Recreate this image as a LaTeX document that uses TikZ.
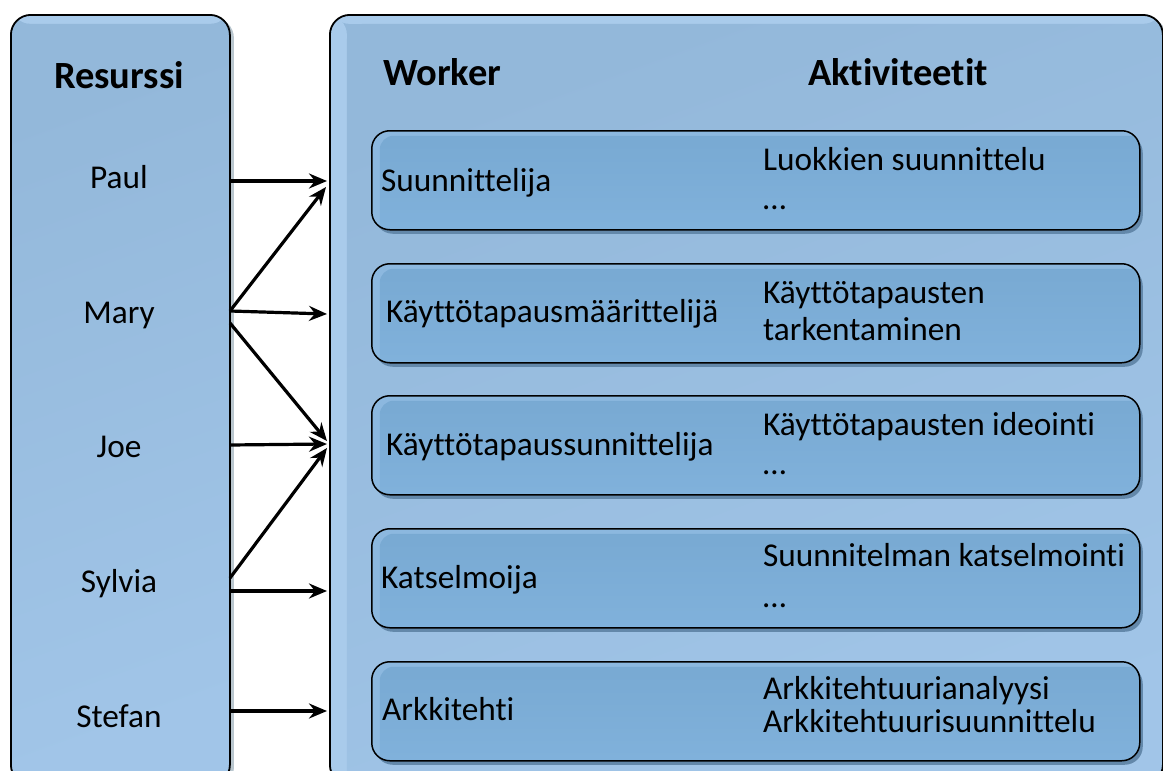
\documentclass[tikz,border=0pt]{standalone}
\usepackage{fontspec}
\setmainfont{Carlito}[Ligatures={NoCommon}]
\usetikzlibrary{arrows.meta,shadows}

\definecolor{panelTop}{HTML}{93B8DA}
\definecolor{panelBot}{HTML}{A1C5E8}
\definecolor{panelHi}{HTML}{A9CBEB}
\definecolor{panelShade}{HTML}{BAC7CF}
\definecolor{cardTop}{HTML}{78A9D2}
\definecolor{cardBot}{HTML}{81B2DC}
\definecolor{cardHi}{HTML}{8CB8DF}
\definecolor{cardShade}{HTML}{6388AA}

\newcommand\txtfont{\fontsize{33.3}{40}\selectfont}
\newcommand\headfont{\fontsize{38.5}{46}\selectfont\bfseries}

\begin{document}
\begin{tikzpicture}[x=1pt,y=-1pt,
  panel/.style={draw=black, line width=1.8pt, rounded corners=20pt,
    anchor=north west, inner sep=0pt,
    top color=panelTop, bottom color=panelBot, shading angle=20,
    drop shadow={shadow xshift=4pt, shadow yshift=-3pt, fill=panelShade, opacity=1}},
  card/.style={draw=black, line width=1.5pt, rounded corners=18pt,
    anchor=north west, inner sep=0pt, minimum width=768pt, minimum height=99pt,
    fill=cardHi,
    drop shadow={shadow xshift=3pt, shadow yshift=-4pt, fill=cardShade, opacity=1},
    path picture={
      \shade[top color=cardTop, bottom color=cardBot, rounded corners=14pt]
        ([xshift=8pt,yshift=-5pt]path picture bounding box.north west)
        rectangle ([xshift=10pt,yshift=-10pt]path picture bounding box.south east);}},
  txt/.style={font=\txtfont, inner sep=0pt},
  head/.style={font=\headfont, inner sep=0pt},
  link/.style={line width=3.2pt, -{Stealth[length=18pt,width=15pt,inset=6pt]}}
]
\useasboundingbox (0,0) rectangle (1163,771);
\clip (0,0) rectangle (1163,771);

% the two panels (their lower ends run off the page)
\node[panel, minimum width=219pt, minimum height=770pt,
  path picture={\fill[panelHi] (path picture bounding box.north west) rectangle
    ([yshift=-9pt]path picture bounding box.north east);
    \shade[top color=panelTop, bottom color=panelBot, shading angle=20, rounded corners=16pt]
      ([xshift=2pt,yshift=-9pt]path picture bounding box.north west) rectangle
      ([xshift=10pt,yshift=-10pt]path picture bounding box.south east);}]
  (res) at (10,14) {};
\node[panel, minimum width=833pt, minimum height=770pt,
  path picture={\fill[panelHi] (path picture bounding box.north west) rectangle
    ([yshift=-9pt,xshift=17pt]path picture bounding box.south west);
    \fill[panelHi] (path picture bounding box.north west) rectangle
    ([yshift=-9pt]path picture bounding box.north east);
    \shade[top color=panelTop, bottom color=panelBot, shading angle=20, rounded corners=16pt]
      ([xshift=17pt,yshift=-9pt]path picture bounding box.north west) rectangle
      ([xshift=10pt,yshift=-10pt]path picture bounding box.south east);}]
  (wrk) at (329,14) {};

% headings
\node[head, anchor=base] (hres) at (119,88) {Resurssi};
\node[head, anchor=base west] (hwrk) at (383,85) {Worker};
\node[head, anchor=base west] (hakt) at (808,85) {Aktiviteetit};

% worker cards
\node[card] (c1) at (371,130) {};
\node[card] (c2) at (371,263) {};
\node[card] (c3) at (371,395) {};
\node[card] (c4) at (371,528) {};
\node[card] (c5) at (371,661) {};

% worker names
\node[txt, anchor=base west] (w1) at (381,191) {Suunnittelija};
\node[txt, anchor=base west] (w2) at (386,322) {Käyttötapausmäärittelijä};
\node[txt, anchor=base west] (w3) at (386,455) {Käyttötapaussunnittelija};
\node[txt, anchor=base west] (w4) at (381,588) {Katselmoija};
\node[txt, anchor=base west] (w5) at (382,720) {Arkkitehti};

% activities
\node[txt, anchor=base west] (a1a) at (763,170) {Luokkien suunnittelu};
\node[txt, anchor=base west] (a1b) at (763,209) {…};
\node[txt, anchor=base west] (a2a) at (763,303) {Käyttötapausten};
\node[txt, anchor=base west] (a2b) at (763,340) {tarkentaminen};
\node[txt, anchor=base west] (a3a) at (763,435) {Käyttötapausten ideointi};
\node[txt, anchor=base west] (a3b) at (763,474) {…};
\node[txt, anchor=base west] (a4a) at (763,566) {Suunnitelman katselmointi};
\node[txt, anchor=base west] (a4b) at (763,607) {…};
\node[txt, anchor=base west] (a5a) at (763,699) {Arkkitehtuurianalyysi};
\node[txt, anchor=base west] (a5b) at (763,732) {Arkkitehtuurisuunnittelu};

% resources
\node[txt, anchor=base] (paul) at (119,188) {Paul};
\node[txt, anchor=base] (mary) at (119,323) {Mary};
\node[txt, anchor=base] (joe) at (119,457) {Joe};
\node[txt, anchor=base] (sylvia) at (119,592) {Sylvia};
\node[txt, anchor=base] (stefan) at (119,727) {Stefan};

% connector end points on the panel borders
\coordinate (paulOut) at (230,181);
\coordinate (maryOut) at (230,311);
\coordinate (maryOutB) at (230,323);
\coordinate (joeOut) at (230,445);
\coordinate (sylviaOut) at (230,578);
\coordinate (sylviaOutB) at (230,591);
\coordinate (stefanOut) at (230,711);

\coordinate (in1) at (327,181);
\coordinate (in1b) at (326,187);
\coordinate (in2) at (327,314);
\coordinate (in3) at (327,441);
\coordinate (in3b) at (327,444);
\coordinate (in3c) at (327,448);
\coordinate (in4) at (327,591);
\coordinate (in5) at (327,711);

% assignments
\draw[link] (paulOut) -- (in1);
\draw[link] (maryOut) -- (in1b);
\draw[link] (maryOut) -- (in2);
\draw[link] (maryOutB) -- (in3);
\draw[link] (joeOut) -- (in3b);
\draw[link] (sylviaOut) -- (in3c);
\draw[link] (sylviaOutB) -- (in4);
\draw[link] (stefanOut) -- (in5);
\end{tikzpicture}
\end{document}
